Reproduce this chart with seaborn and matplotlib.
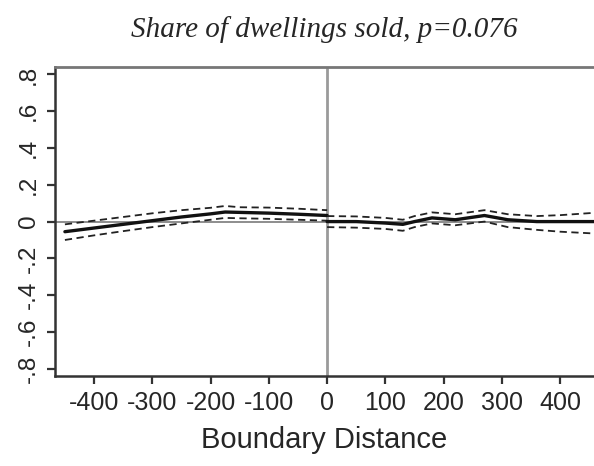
import matplotlib
matplotlib.use("Agg")
import matplotlib.pyplot as plt
import seaborn as sns
import pandas as pd

# Left of boundary
left_x = [-450, -400, -350, -300, -250, -200, -175, -150, -100, -50, 0]
left_est = [-0.055, -0.035, -0.015, 0.005, 0.025, 0.042, 0.052, 0.05, 0.046, 0.04, 0.033]
left_hi = [-0.015, 0.005, 0.025, 0.045, 0.062, 0.075, 0.085, 0.078, 0.076, 0.07, 0.062]
left_lo = [-0.1, -0.075, -0.052, -0.03, -0.01, 0.01, 0.02, 0.018, 0.015, 0.01, 0.005]

# Right of boundary
right_x = [0, 50, 100, 130, 150, 180, 220, 270, 310, 360, 400, 460]
right_est = [0.0, 0.0, -0.008, -0.015, 0.0, 0.02, 0.01, 0.033, 0.01, 0.0, 0.0, 0.0]
right_hi = [0.03, 0.028, 0.02, 0.01, 0.03, 0.05, 0.04, 0.062, 0.04, 0.03, 0.035, 0.048]
right_lo = [-0.03, -0.033, -0.04, -0.05, -0.03, -0.01, -0.02, 0.0, -0.03, -0.045, -0.055, -0.065]

x_ticks = [-400, -300, -200, -100, 0, 100, 200, 300, 400]
y_ticks = [-0.8, -0.6, -0.4, -0.2, 0, 0.2, 0.4, 0.6, 0.8]
y_ticklabels = ["-.8", "-.6", "-.4", "-.2", "0", ".2", ".4", ".6", ".8"]

title = "Share of dwellings sold, p=0.076"
xlabel = "Boundary Distance"

sns.set_style("white")
plt.rcParams["font.family"] = ["Liberation Sans", "DejaVu Sans"]

fig = plt.figure(figsize=(5.94, 4.66), dpi=100)
ax = fig.add_axes([0.0926, 0.193, 0.9074, 0.663])

ax.axhline(0, color="#7a7a7a", lw=1.2, zorder=1)
ax.axvline(0, color="#9a9a9a", lw=2.0, zorder=1)

segments = [(left_x, left_est, left_hi, left_lo), (right_x, right_est, right_hi, right_lo)]
for xs, est, hi, lo in segments:
    df = pd.DataFrame({"x": xs, "est": est, "hi": hi, "lo": lo})
    sns.lineplot(data=df, x="x", y="est", ax=ax, color="#111111", lw=2.4, zorder=3)
    sns.lineplot(data=df, x="x", y="hi", ax=ax, color="#222222", lw=1.3,
                 linestyle=(0, (4, 2.5)), zorder=3)
    sns.lineplot(data=df, x="x", y="lo", ax=ax, color="#222222", lw=1.3,
                 linestyle=(0, (4, 2.5)), zorder=3)

ax.set_xlim(-467, 458)
ax.set_ylim(-0.84, 0.84)
ax.set_xticks(x_ticks)
ax.set_xticklabels([str(v) for v in x_ticks], fontsize=18)
ax.set_yticks(y_ticks)
ax.set_yticklabels(y_ticklabels, fontsize=17.5, rotation=90, va="center")
ax.set_xlabel(xlabel, fontsize=21, labelpad=8)
ax.set_ylabel("")
ax.set_title(title, fontsize=21, family=["Liberation Serif"], style="italic", pad=22)

for s in ["left", "bottom"]:
    ax.spines[s].set_color("#333333")
    ax.spines[s].set_linewidth(1.8)
ax.spines["top"].set_color("#777777")
ax.spines["top"].set_linewidth(2.0)
ax.spines["right"].set_visible(False)
ax.tick_params(axis="both", which="both", direction="out", length=6, width=1.6,
               color="#333333", left=True, bottom=True, pad=5)

fig.savefig("out.png", dpi=100)
